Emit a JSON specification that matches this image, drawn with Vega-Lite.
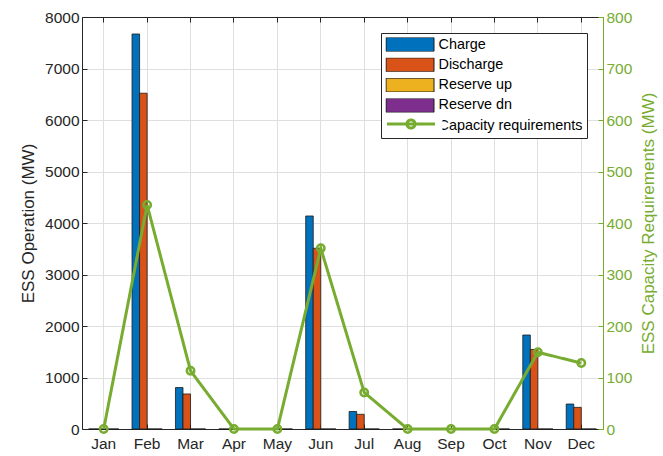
{
  "$schema": "https://vega.github.io/schema/vega-lite/v6.json",
  "width": 521,
  "height": 412,
  "autosize": "none",
  "padding": {"left": 82, "top": 17, "right": 60, "bottom": 27},
  "background": "white",
  "config": {
    "font": "Liberation Sans",
    "view": {"stroke": null},
    "axis": {
      "labelFont": "Liberation Sans",
      "labelFontSize": 15.5,
      "titleFont": "Liberation Sans",
      "titleFontSize": 17,
      "titleFontWeight": "normal",
      "gridColor": "#dfdfdf",
      "gridWidth": 1,
      "domainWidth": 1,
      "tickWidth": 1
    }
  },
  "datasets": {
    "bars": [
      {"month": "Jan", "series": "Charge", "value": 0},
      {"month": "Jan", "series": "Discharge", "value": 0},
      {"month": "Jan", "series": "Reserve up", "value": 0},
      {"month": "Jan", "series": "Reserve dn", "value": 0},
      {"month": "Feb", "series": "Charge", "value": 7670},
      {"month": "Feb", "series": "Discharge", "value": 6520},
      {"month": "Feb", "series": "Reserve up", "value": 0},
      {"month": "Feb", "series": "Reserve dn", "value": 0},
      {"month": "Mar", "series": "Charge", "value": 805},
      {"month": "Mar", "series": "Discharge", "value": 680},
      {"month": "Mar", "series": "Reserve up", "value": 0},
      {"month": "Mar", "series": "Reserve dn", "value": 0},
      {"month": "Apr", "series": "Charge", "value": 0},
      {"month": "Apr", "series": "Discharge", "value": 0},
      {"month": "Apr", "series": "Reserve up", "value": 0},
      {"month": "Apr", "series": "Reserve dn", "value": 0},
      {"month": "May", "series": "Charge", "value": 0},
      {"month": "May", "series": "Discharge", "value": 0},
      {"month": "May", "series": "Reserve up", "value": 0},
      {"month": "May", "series": "Reserve dn", "value": 0},
      {"month": "Jun", "series": "Charge", "value": 4136},
      {"month": "Jun", "series": "Discharge", "value": 3510},
      {"month": "Jun", "series": "Reserve up", "value": 0},
      {"month": "Jun", "series": "Reserve dn", "value": 0},
      {"month": "Jul", "series": "Charge", "value": 340},
      {"month": "Jul", "series": "Discharge", "value": 285},
      {"month": "Jul", "series": "Reserve up", "value": 0},
      {"month": "Jul", "series": "Reserve dn", "value": 0},
      {"month": "Aug", "series": "Charge", "value": 0},
      {"month": "Aug", "series": "Discharge", "value": 0},
      {"month": "Aug", "series": "Reserve up", "value": 0},
      {"month": "Aug", "series": "Reserve dn", "value": 0},
      {"month": "Sep", "series": "Charge", "value": 0},
      {"month": "Sep", "series": "Discharge", "value": 0},
      {"month": "Sep", "series": "Reserve up", "value": 0},
      {"month": "Sep", "series": "Reserve dn", "value": 0},
      {"month": "Oct", "series": "Charge", "value": 0},
      {"month": "Oct", "series": "Discharge", "value": 0},
      {"month": "Oct", "series": "Reserve up", "value": 0},
      {"month": "Oct", "series": "Reserve dn", "value": 0},
      {"month": "Nov", "series": "Charge", "value": 1825},
      {"month": "Nov", "series": "Discharge", "value": 1545},
      {"month": "Nov", "series": "Reserve up", "value": 0},
      {"month": "Nov", "series": "Reserve dn", "value": 0},
      {"month": "Dec", "series": "Charge", "value": 485},
      {"month": "Dec", "series": "Discharge", "value": 420},
      {"month": "Dec", "series": "Reserve up", "value": 0},
      {"month": "Dec", "series": "Reserve dn", "value": 0}
    ],
    "cap": [
      {"month": "Jan", "series": "Capacity requirements", "cap": 0},
      {"month": "Feb", "series": "Capacity requirements", "cap": 435},
      {"month": "Mar", "series": "Capacity requirements", "cap": 113},
      {"month": "Apr", "series": "Capacity requirements", "cap": 0},
      {"month": "May", "series": "Capacity requirements", "cap": 0},
      {"month": "Jun", "series": "Capacity requirements", "cap": 351},
      {"month": "Jul", "series": "Capacity requirements", "cap": 71},
      {"month": "Aug", "series": "Capacity requirements", "cap": 0},
      {"month": "Sep", "series": "Capacity requirements", "cap": 0},
      {"month": "Oct", "series": "Capacity requirements", "cap": 0},
      {"month": "Nov", "series": "Capacity requirements", "cap": 149},
      {"month": "Dec", "series": "Capacity requirements", "cap": 128}
    ]
  },
  "layer": [
    {
      "data": {"name": "bars"},
      "mark": {"type": "bar", "stroke": "#1a1a1a", "strokeWidth": 0.8},
      "encoding": {
        "x": {
          "field": "month",
          "type": "nominal",
          "sort": ["Jan", "Feb", "Mar", "Apr", "May", "Jun", "Jul", "Aug", "Sep", "Oct", "Nov", "Dec"],
          "scale": {"paddingInner": 0, "paddingOuter": 0},
          "axis": {
            "orient": "bottom",
            "title": null,
            "labelAngle": 0,
            "labelColor": "#262626",
            "domainColor": "#262626",
            "tickColor": "#262626",
            "tickSize": -5,
            "labelPadding": 12,
            "grid": true
          }
        },
        "xOffset": {
          "field": "series",
          "type": "nominal",
          "sort": ["Charge", "Discharge", "Reserve up", "Reserve dn"],
          "scale": {"paddingInner": 0, "paddingOuter": 0.878}
        },
        "y": {
          "field": "value",
          "type": "quantitative",
          "scale": {"domain": [0, 8000], "nice": false},
          "axis": {
            "orient": "left",
            "values": [0, 1000, 2000, 3000, 4000, 5000, 6000, 7000, 8000],
            "format": "d",
            "title": "ESS Operation (MW)",
            "titleColor": "#262626",
            "titlePadding": 7,
            "labelColor": "#262626",
            "domainColor": "#262626",
            "tickColor": "#262626",
            "tickSize": -5,
            "labelPadding": 8,
            "grid": true
          }
        },
        "color": {
          "field": "series",
          "type": "nominal",
          "scale": {
            "domain": ["Charge", "Discharge", "Reserve up", "Reserve dn", "Capacity requirements"],
            "range": ["#0072BD", "#D95319", "#EDB120", "#7E2F8E", "#77AC30"]
          },
          "legend": {
            "orient": "none",
            "legendX": 299,
            "legendY": 16,
            "title": null,
            "padding": 4.5,
            "strokeColor": "#262626",
            "fillColor": "white",
            "labelFont": "Liberation Sans",
            "labelFontSize": 14.4,
            "labelColor": "#000000",
            "labelOffset": 4,
            "symbolType": "M-1,-0.29H1V0.29H-1Z",
            "symbolSize": 2304,
            "clipHeight": 14,
            "rowPadding": 5.3,
            "symbolStrokeWidth": 1,
            "symbolOpacity": 1
          }
        }
      }
    },
    {
      "data": {"name": "cap"},
      "encoding": {
        "x": {
          "field": "month",
          "type": "nominal",
          "sort": ["Jan", "Feb", "Mar", "Apr", "May", "Jun", "Jul", "Aug", "Sep", "Oct", "Nov", "Dec"],
          "axis": {
            "orient": "top",
            "title": null,
            "labels": false,
            "domainColor": "#262626",
            "tickColor": "#262626",
            "tickSize": -5,
            "grid": false
          }
        },
        "y": {
          "field": "cap",
          "type": "quantitative",
          "scale": {"domain": [0, 800], "nice": false},
          "axis": {
            "orient": "right",
            "values": [0, 100, 200, 300, 400, 500, 600, 700, 800],
            "format": "d",
            "title": "ESS Capacity Requirements (MW)",
            "titleColor": "#77AC30",
            "titleAngle": 270,
            "titleBaseline": "top",
            "titlePadding": 9,
            "labelColor": "#77AC30",
            "domainColor": "#77AC30",
            "tickColor": "#77AC30",
            "tickSize": -5,
            "labelPadding": 8,
            "grid": false
          }
        },
        "color": {"value": "#77AC30"}
      },
      "layer": [
        {
          "mark": {"type": "line", "strokeWidth": 3},
          "encoding": {
            "strokeDash": {
              "field": "series",
              "type": "nominal",
              "scale": {"domain": ["Capacity requirements"], "range": [[1, 0]]},
              "legend": {
                "orient": "none",
                "legendX": 301.5,
                "legendY": 98,
                "title": null,
                "padding": 2,
                "strokeColor": null,
                "fillColor": "white",
                "labelExpr": "''",
                "labelFont": "Liberation Sans",
                "labelFontSize": 14.4,
                "labelColor": "#000000",
                "labelOffset": 4,
                "symbolType": "M-1,0H1M-0.17,0A0.17,0.17 0 1,1 0.17,0A0.17,0.17 0 1,1 -0.17,0Z",
                "symbolSize": 2304,
                "clipHeight": 14,
                "symbolStrokeWidth": 3,
                "symbolOpacity": 1
              }
            }
          }
        },
        {"mark": {"type": "point", "filled": false, "size": 55, "strokeWidth": 2.5, "opacity": 1}}
      ]
    }
  ],
  "resolve": {"scale": {"y": "independent"}, "axis": {"x": "independent"}}
}
